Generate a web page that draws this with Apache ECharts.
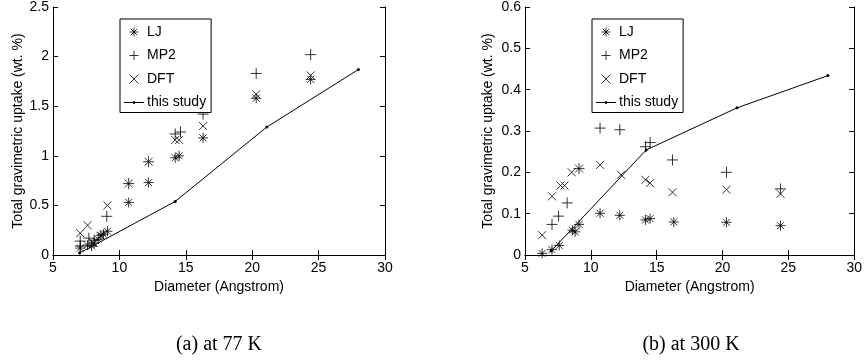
<!DOCTYPE html>
<html>
<head>
<meta charset="utf-8">
<script src="https://cdn.jsdelivr.net/npm/echarts@6/dist/echarts.min.js"></script>
<style>
  html, body { margin: 0; padding: 0; background: #fff; }
  #chart { width: 865px; height: 364px; }
</style>
</head>
<body>
<div id="chart"></div>
<script>
// (a) 77 K
const lj77x = [7.05, 7.6, 7.9, 8.1, 8.4, 8.6, 8.8, 9.1, 10.7, 12.2, 14.2, 14.5, 16.3, 20.3, 24.4];
const lj77y = [0.07, 0.10, 0.09, 0.12, 0.16, 0.20, 0.21, 0.24, 0.53, 0.73, 0.98, 1.00, 1.18, 1.58, 1.77];
const mp277x = [7.05, 7.05, 7.7, 8.1, 9.05, 10.7, 12.2, 14.2, 14.6, 16.3, 20.3, 24.4];
const mp277y = [0.09, 0.14, 0.17, 0.15, 0.39, 0.72, 0.94, 1.22, 1.24, 1.42, 1.83, 2.02];
const dft77x = [7.05, 7.6, 8.0, 8.6, 9.1, 10.7, 12.2, 14.2, 14.5, 16.3, 20.3, 24.4];
const dft77y = [0.22, 0.30, 0.12, 0.19, 0.50, 0.72, 0.94, 1.16, 1.16, 1.30, 1.62, 1.81];
const this77x = [7.0, 14.2, 21.1, 28.0];
const this77y = [0.02, 0.54, 1.29, 1.87];

// (b) 300 K
const lj300x = [6.3, 7.05, 7.6, 8.6, 8.8, 9.1, 10.7, 12.2, 14.15, 14.5, 16.3, 20.3, 24.4];
const lj300y = [0.004, 0.013, 0.023, 0.060, 0.056, 0.074, 0.101, 0.096, 0.085, 0.088, 0.080, 0.079, 0.071];
const mp2300x = [7.05, 7.55, 8.2, 9.1, 10.7, 12.2, 14.15, 14.5, 16.2, 20.3, 24.4];
const mp2300y = [0.074, 0.094, 0.126, 0.209, 0.307, 0.303, 0.262, 0.272, 0.230, 0.200, 0.160];
const dft300x = [6.3, 7.05, 7.7, 8.0, 8.55, 9.1, 10.7, 12.3, 14.15, 14.5, 16.2, 20.3, 24.4];
const dft300y = [0.048, 0.142, 0.168, 0.168, 0.200, 0.209, 0.218, 0.194, 0.182, 0.174, 0.152, 0.158, 0.148];
const this300x = [7.0, 14.2, 21.1, 28.0];
const this300y = [0.010, 0.254, 0.356, 0.434];

const captions = ['(a) at 77 K', '(b) at 300 K'];

const zip = (xs, ys) => xs.map((x, i) => [x, ys[i]]);

const STAR = 'path://M5,0L5,10M0,5L10,5M1.5,1.5L8.5,8.5M1.5,8.5L8.5,1.5';
const PLUS = 'path://M5,0L5,10M0,5L10,5';
const CROSS = 'path://M0,0L10,10M0,10L10,0';
// legend icon for the line series: thin line with a small dot
const LINE_DOT = 'path://M0,4.6L20,4.6L20,5.4L0,5.4Z M9,3.8L11,3.8L11,6.2L9,6.2Z';
const FONT = 'Liberation Sans';
const strokeStyle = { color: 'none', borderColor: '#000', borderWidth: 1 };

const grids = [
  { left: 53, top: 5, width: 332, height: 250 },
  { left: 525, top: 6, width: 332, height: 249 }
];

function xAxes(gi) {
  const base = {
    gridIndex: gi, type: 'value', min: 5, max: 30, interval: 5,
    axisLine: { lineStyle: { color: '#000', width: 1 } },
    axisTick: { inside: true, length: 5, lineStyle: { color: '#000' } },
    splitLine: { show: false }
  };
  return [
    Object.assign({}, base, {
      position: 'bottom',
      name: 'Diameter (Angstrom)', nameLocation: 'middle', nameGap: 21,
      nameTextStyle: { color: '#000', fontFamily: FONT, fontSize: 14 },
      axisLabel: { color: '#000', fontFamily: FONT, fontSize: 14, margin: 6 }
    }),
    Object.assign({}, base, { position: 'top', axisLabel: { show: false } })
  ];
}

function yAxes(gi, max, interval, gap) {
  const base = {
    gridIndex: gi, type: 'value', min: 0, max: max, interval: interval,
    axisLine: { lineStyle: { color: '#000', width: 1 } },
    axisTick: { inside: true, length: 5, lineStyle: { color: '#000' } },
    splitLine: { show: false }
  };
  return [
    Object.assign({}, base, {
      position: 'left',
      name: 'Total gravimetric uptake (wt. %)', nameLocation: 'middle', nameGap: gap,
      nameTextStyle: { color: '#000', fontFamily: FONT, fontSize: 14 },
      axisLabel: { color: '#000', fontFamily: FONT, fontSize: 14, margin: 4 }
    }),
    Object.assign({}, base, { position: 'right', axisLabel: { show: false } })
  ];
}

function seriesFor(gi, lj, mp2, dft, study) {
  const xi = gi * 2, yi = gi * 2;
  return [
    { name: 'LJ', type: 'scatter', xAxisIndex: xi, yAxisIndex: yi, data: lj,
      symbol: STAR, symbolSize: 10, itemStyle: strokeStyle },
    { name: 'MP2', type: 'scatter', xAxisIndex: xi, yAxisIndex: yi, data: mp2,
      symbol: PLUS, symbolSize: 11, itemStyle: strokeStyle },
    { name: 'DFT', type: 'scatter', xAxisIndex: xi, yAxisIndex: yi, data: dft,
      symbol: CROSS, symbolSize: 8, itemStyle: strokeStyle },
    { name: 'this study', type: 'line', xAxisIndex: xi, yAxisIndex: yi, data: study,
      symbol: 'circle', symbolSize: 3, showAllSymbol: true,
      lineStyle: { color: '#000', width: 1 }, itemStyle: { color: '#000' } }
  ];
}

function legendAt(left) {
  return {
    orient: 'vertical', left: left, top: 19,
    data: [
      { name: 'LJ', itemStyle: { borderWidth: 1 } },
      { name: 'MP2', itemStyle: { borderWidth: 1 } },
      { name: 'DFT', itemStyle: { borderWidth: 1 } },
      { name: 'this study', icon: LINE_DOT, itemStyle: { color: '#000', borderWidth: 0 } }
    ],
    itemWidth: 20, itemHeight: 9, itemGap: 9.5,
    padding: [6, 5, 3, 4],
    itemStyle: { borderWidth: 1 },
    backgroundColor: '#fff', borderColor: '#000', borderWidth: 1, borderRadius: 0,
    selectedMode: false,
    textStyle: { color: '#000', fontFamily: FONT, fontSize: 14, padding: [0, 0, 0, -2] }
  };
}

const chart = echarts.init(document.getElementById('chart'));
chart.setOption({
  animation: false,
  backgroundColor: '#fff',
  grid: grids,
  xAxis: xAxes(0).concat(xAxes(1)),
  yAxis: yAxes(0, 2.5, 0.5, 28).concat(yAxes(1, 0.6, 0.1, 29.5)),
  legend: [legendAt(120), legendAt(592)],
  series: seriesFor(0, zip(lj77x, lj77y), zip(mp277x, mp277y), zip(dft77x, dft77y), zip(this77x, this77y))
    .concat(seriesFor(1, zip(lj300x, lj300y), zip(mp2300x, mp2300y), zip(dft300x, dft300y), zip(this300x, this300y))),
  graphic: [
    { type: 'text', x: 219, y: 345, style: { text: captions[0], textAlign: 'center', textVerticalAlign: 'middle',
      font: '20px "Liberation Serif"', fill: '#000' } },
    { type: 'text', x: 691, y: 345, style: { text: captions[1], textAlign: 'center', textVerticalAlign: 'middle',
      font: '20px "Liberation Serif"', fill: '#000' } }
  ]
});
</script>
</body>
</html>
